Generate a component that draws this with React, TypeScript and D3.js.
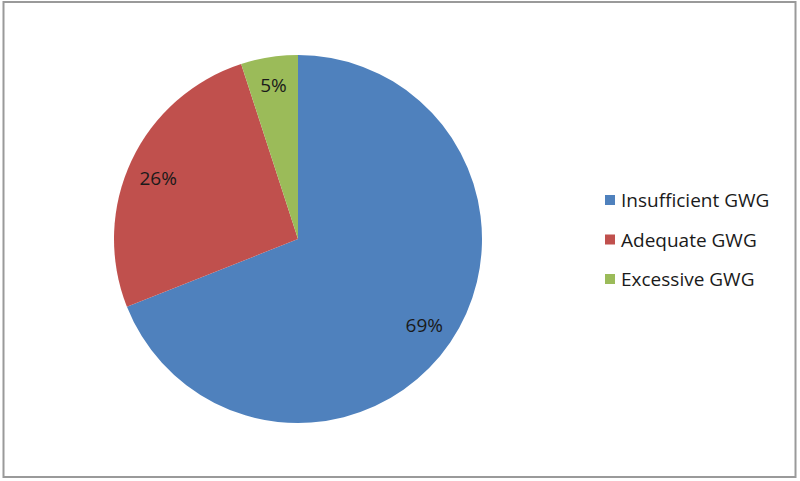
import React from "react";
import * as d3 from "d3";

const categories = ["Insufficient GWG", "Adequate GWG", "Excessive GWG"];
const values = [69, 26, 5];
const labels = ["69%", "26%", "5%"];
const colors = ["#4F81BD", "#C0504D", "#9BBB59"];

const W = 800;
const H = 481;
const cx = 298;
const cy = 239;
const R = 184;
// label placement (fraction of radius, angle tweak in degrees)
const labelRadius = [0.83, 0.83, 0.85];
const labelAngleShift = [0, -1.5, 0];
const FONT = "'Open Sans', 'Liberation Sans', sans-serif";

export default function App() {
  const pie = d3.pie<number>().sort(null).value((d) => d)(values);
  const arc = d3.arc<d3.PieArcDatum<number>>().innerRadius(0).outerRadius(R);
  const legendY = d3.scalePoint<string>().domain(categories).range([200, 279]);

  return (
    <svg
      width={W}
      height={H}
      style={{ position: "absolute", left: 0, top: 0, background: "#fff" }}
    >
      <rect x={3.5} y={2} width={792} height={475} fill="#fff" stroke="#9a9a9a" strokeWidth={2} />
      <g transform={`translate(${cx},${cy})`}>
        {pie.map((p, i) => (
          <path key={i} d={arc(p) || ""} fill={colors[i]} />
        ))}
        {pie.map((p, i) => {
          const a = (p.startAngle + p.endAngle) / 2 + (labelAngleShift[i] * Math.PI) / 180;
          const r = R * labelRadius[i];
          return (
            <text
              key={i}
              x={r * Math.sin(a)}
              y={-r * Math.cos(a)}
              textAnchor="middle"
              dominantBaseline="central"
              fontFamily={FONT}
              fontSize={19}
              fill="#1a1a1a"
            >
              {labels[i]}
            </text>
          );
        })}
      </g>
      {categories.map((c, i) => {
        const y = legendY(c) as number;
        return (
          <g key={c}>
            <rect x={605} y={y - 5} width={10} height={10} fill={colors[i]} />
            <text
              x={621}
              y={y}
              dominantBaseline="central"
              fontFamily={FONT}
              fontSize={19}
              fill="#1a1a1a"
            >
              {c}
            </text>
          </g>
        );
      })}
    </svg>
  );
}
